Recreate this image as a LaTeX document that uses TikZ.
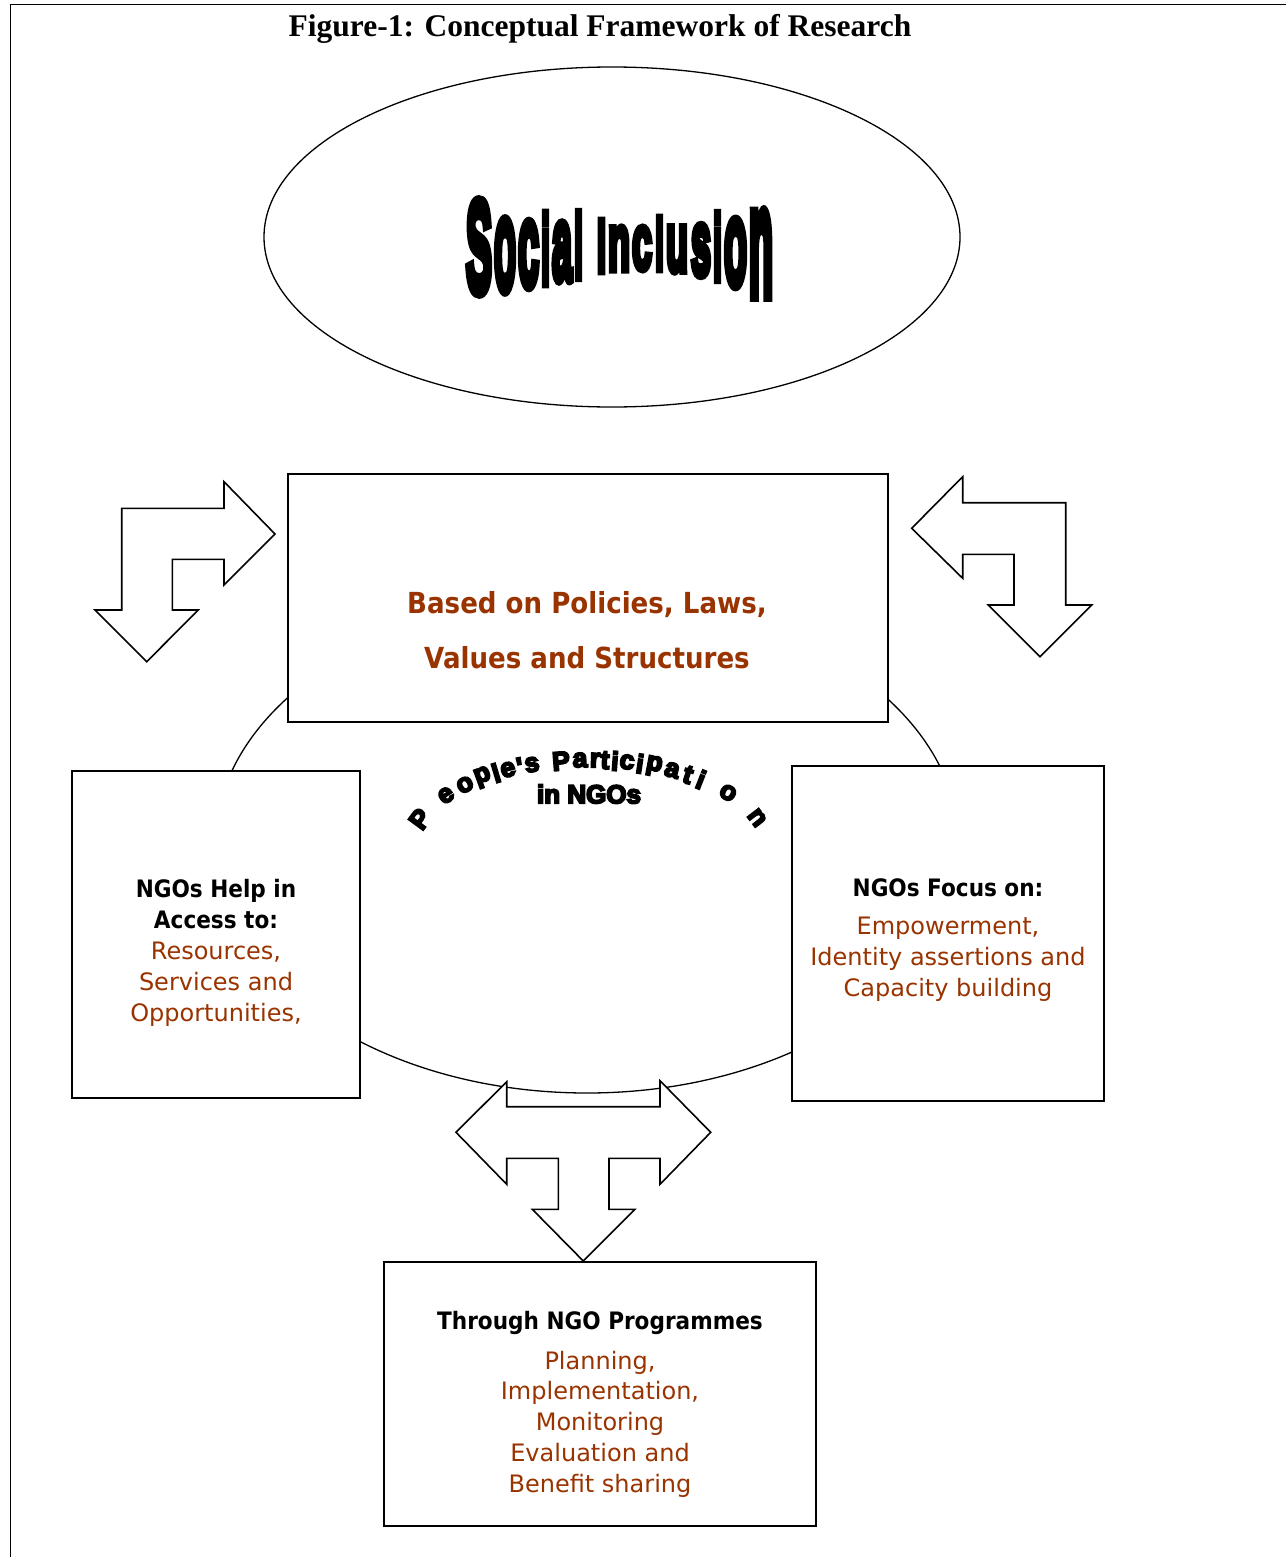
\documentclass[tikz,border=0pt]{standalone}
\usepackage{fontspec}
\usepackage{graphicx}
\usetikzlibrary{shapes.geometric}
\setmainfont{DejaVu Sans}
\newfontfamily\bodyfont{DejaVu Sans}
\newfontfamily\headfont{DejaVu Sans}[FakeStretch=0.9]
\newfontfamily\titlefont{Liberation Serif}
\newfontfamily\heavyfont{Liberation Sans}[FakeBold=7]
\newfontfamily\impactfont{Liberation Sans}[FakeBold=9]
\definecolor{brn}{RGB}{153,51,0}
\begin{document}
\begin{tikzpicture}[x=1pt,y=-1pt,
  box/.style={draw, line width=1.6pt, fill=white, rectangle, inner sep=0pt, outer sep=0pt},
  arrowshape/.style={draw, line width=1.6pt, fill=white, line join=miter},
  ringline/.style={draw, line width=1.3pt, ellipse, inner sep=0pt, outer sep=0pt},
  headtxt/.style={font=\headfont\bfseries\fontsize{24}{28}\selectfont, anchor=base, inner sep=0pt},
  bodytxt/.style={font=\bodyfont\fontsize{24}{28}\selectfont, text=brn, anchor=base, inner sep=0pt},
  maintxt/.style={font=\headfont\bfseries\fontsize{29}{34}\selectfont, text=brn, anchor=base, inner sep=0pt},
  archtxt/.style={font=\heavyfont\bfseries\fontsize{26.5}{30}\selectfont, inner sep=0pt},
]
\useasboundingbox (0,0) rectangle (1286,1557);
\fill[white] (0,0) rectangle (1286,1557);
\draw[line width=1pt] (10,1557) -- (10,5) -- (1286,5);

% title
\node[font=\titlefont\bfseries\fontsize{31.5}{36}\selectfont, anchor=base, inner sep=0pt] (title) at (600,37) {Figure-1: Conceptual Framework of Research};

% Social inclusion ellipse
\node[ringline, minimum width=696pt, minimum height=340pt] (si) at (612,237) {};
\foreach \ch/\xl/\xr/\yt/\yb in {S/466/492/201/293, o/494/516/220/291, c/518/539/222/287, i/541/550/213/284, a/552/572/223/281, l/574/583/212/278, I/597/606/220/272, n/608/630/227/270, c/632/652/227/270, l/655/664/217/270, u/666/688/227/272, s/691/711/225/276, i/713/722/213/280, o/724/747/220/286, n/749/773/212/295}{
  \pgfmathsetmacro\ww{\xr-\xl}
  \pgfmathsetmacro\hh{\yb-\yt}
  \node[anchor=south west, inner sep=0pt, outer sep=0pt] (si\xl) at (\xl,\yb) {\resizebox*{\ww pt}{\hh pt}{\impactfont\bfseries \ch}};
}

% big ring
\node[ringline, minimum width=744pt, minimum height=496pt] (ring) at (587,845) {};

% boxes
\node[box, minimum width=600pt, minimum height=248pt] (topbox) at (588,598) {};
\node[box, minimum width=288pt, minimum height=327pt] (leftbox) at (216,934.5) {};
\node[box, minimum width=312pt, minimum height=335pt] (rightbox) at (948,933.5) {};
\node[box, minimum width=432pt, minimum height=264pt] (botbox) at (600,1394) {};

% arrows
\draw[arrowshape] (146.7,661.7) -- (95,610) -- (121.7,610) -- (121.7,508.3) -- (224,508.3) -- (224,481.7) -- (275,534) -- (224,585) -- (224,559.3) -- (172.3,559.3) -- (172.3,610) -- (198.3,610) -- cycle;
\draw[arrowshape] (911.7,528.3) -- (962.7,476.7) -- (962.7,502.7) -- (1065.7,502.7) -- (1065.7,605) -- (1091.7,605) -- (1040,656.7) -- (988.3,605) -- (1014,605) -- (1014,554.3) -- (962.7,554.3) -- (962.7,578.3) -- cycle;
\draw[arrowshape] (456,1132.3) -- (506.7,1081.7) -- (506.7,1106.7) -- (660,1106.7) -- (660,1080.7) -- (710.7,1132.3) -- (660,1184.3) -- (660,1158.3) -- (609,1158.3) -- (609,1209.3) -- (635,1209.3) -- (583.3,1261) -- (532.3,1209.3) -- (558.3,1209.3) -- (558.3,1158.3) -- (506.7,1158.3) -- (506.7,1184.3) -- cycle;

% top box text
\node[maintxt] (t1) at (587,613) {Based on Policies, Laws,};
\node[maintxt] (t2) at (587,668) {Values and Structures};

% left box text
\node[headtxt] (l1) at (216,897) {NGOs Help in};
\node[headtxt] (l2) at (216,928) {Access to:};
\node[bodytxt] (l3) at (216,959) {Resources,};
\node[bodytxt] (l4) at (216,990) {Services and};
\node[bodytxt] (l5) at (216,1021) {Opportunities,};

% right box text
\node[headtxt] (r1) at (948,896) {NGOs Focus on:};
\node[bodytxt] (r2) at (948,934) {Empowerment,};
\node[bodytxt] (r3) at (948,965) {Identity assertions and};
\node[bodytxt] (r4) at (948,996) {Capacity building};

% bottom box text
\node[headtxt] (b1) at (600,1329) {Through NGO Programmes};
\node[bodytxt] (b2) at (600,1369) {Planning,};
\node[bodytxt] (b3) at (600,1399) {Implementation,};
\node[bodytxt] (b4) at (600,1430) {Monitoring};
\node[bodytxt] (b5) at (600,1461) {Evaluation and};
\node[bodytxt] (b6) at (600,1492) {Benefit sharing};

% arched text
\foreach \ch/\x in {P/420, e/446, o/465, p/483, l/496, e/508, '/520, s/532, P/561, a/580, r/595, t/605, i/615, c/627, i/640, p/654, a/672, t/688, i/701, o/728, n/757}{
  \pgfmathsetmacro\cc{(\x-589)/180}
  \pgfmathsetmacro\ss{sqrt(1-\cc*\cc)}
  \pgfmathsetmacro\yy{850-90*\ss}
  \pgfmathsetmacro\ang{atan2(-90*\cc,180*\ss)}
  \node[archtxt, rotate=\ang] (pp\x) at (\x,\yy) {\ch};
}
\node[font=\heavyfont\bfseries\fontsize{26}{28}\selectfont, inner sep=0pt] (ingo) at (589,794) {in NGOs};
\end{tikzpicture}
\end{document}
